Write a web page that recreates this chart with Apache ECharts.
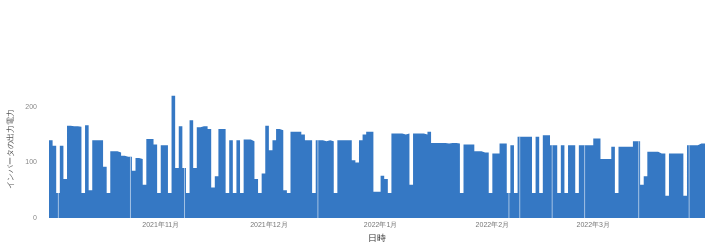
<!DOCTYPE html>
<html>
<head>
<meta charset="UTF-8">
<title>インバータの出力電力</title>
<script src="https://cdn.jsdelivr.net/npm/echarts@6/dist/echarts.min.js"></script>
<style>
  html, body { margin: 0; padding: 0; background: #fff; }
  #main { width: 713px; height: 242px; }
</style>
</head>
<body>
<div id="main"></div>
<script>
// 日ごとの出力電力（2021-10-01 から 2022-03-31 まで）
var startDate = '2021-10-01';
var dailyPower = [
  140, 130, 45, 130, 70, 166, 165, 165, 164, 45,
  167, 50, 140, 140, 140, 92, 45, 120, 120, 118,
  112, 110, 110, 85, 108, 106, 60, 142, 142, 132,
  45, 131, 131, 45, 220, 90, 165, 90, 45, 176,
  90, 163, 165, 165, 160, 55, 75, 160, 160, 45,
  140, 45, 140, 45, 141, 141, 138, 70, 45, 80,
  166, 122, 140, 160, 158, 50, 45, 155, 155, 155,
  150, 140, 140, 45, 140, 140, 138, 140, 138, 45,
  140, 140, 140, 140, 104, 100, 140, 150, 155, 155,
  47, 47, 76, 70, 45, 152, 152, 152, 150, 152,
  60, 152, 152, 152, 150, 155, 135, 135, 135, 135,
  134, 135, 135, 134, 45, 132, 132, 132, 120, 120,
  118, 118, 45, 116, 116, 134, 134, 45, 131, 45,
  146, 146, 146, 146, 45, 146, 45, 149, 149, 131,
  131, 45, 131, 45, 131, 131, 45, 131, 131, 131,
  131, 143, 143, 106, 106, 106, 128, 45, 128, 128,
  128, 128, 138, 138, 60, 75, 119, 119, 119, 116,
  116, 40, 116, 116, 116, 116, 40, 131, 131, 131,
  134, 134
];
// 一瞬 0 まで落ちた日
var dropDates = ['2021-10-03', '2021-10-23', '2021-11-07', '2021-12-14', '2022-02-05',
                 '2022-02-08', '2022-02-17', '2022-02-26', '2022-03-13', '2022-03-27'];
var monthTicks = ['2021-11-01', '2021-12-01', '2022-01-01', '2022-02-01', '2022-03-01'];
var yTicks = [0, 100, 200];

var DAY = 86400000;
function ts(s) {
  var p = s.split('-');
  return Date.UTC(+p[0], +p[1] - 1, +p[2]);
}

var t0 = ts(startDate);

// 各日の値を一日分の水平線として並べる（段差）
var points = [];
for (var i = 0; i < dailyPower.length; i++) {
  var t = t0 + i * DAY;
  points.push([t, dailyPower[i]]);
  points.push([t + DAY, dailyPower[i]]);
}
var tEnd = t0 + dailyPower.length * DAY;

// 落ち込みは細い白線で
var drops = dropDates.map(function (d) {
  var t = ts(d);
  return [t + 0.6 * DAY, dailyPower[Math.round((t - t0) / DAY)]];
});

var myChart = echarts.init(document.getElementById('main'));
myChart.setOption({
  animation: false,
  grid: { left: 49, right: 8, top: 79, bottom: 24, containLabel: false, outerBoundsMode: 'none' },
  xAxis: {
    type: 'value',
    min: t0,
    max: tEnd,
    name: '日時',
    nameLocation: 'middle',
    nameGap: 13,
    nameTextStyle: { fontSize: 9, color: '#333' },
    axisLine: { show: false },
    axisTick: { show: false },
    splitLine: { show: false },
    axisLabel: {
      customValues: monthTicks.map(ts),
      fontSize: 7,
      color: '#777',
      margin: 4,
      formatter: function (v) {
        var d = new Date(v);
        return d.getUTCFullYear() + '年' + (d.getUTCMonth() + 1) + '月';
      }
    }
  },
  yAxis: {
    type: 'value',
    min: 0,
    max: 250,
    name: 'インバータの出力電力',
    nameLocation: 'middle',
    nameGap: 34,
    nameTextStyle: { fontSize: 8, color: '#555' },
    axisLine: { show: false },
    axisTick: { show: false },
    splitLine: { show: false },
    axisLabel: {
      customValues: yTicks,
      fontSize: 7,
      color: '#888',
      margin: 12
    }
  },
  series: [{
    type: 'line',
    data: points,
    showSymbol: false,
    symbol: 'none',
    lineStyle: { width: 0 },
    areaStyle: { color: '#3578c4', opacity: 1 },
    itemStyle: { color: '#3578c4' }
  }, {
    type: 'bar',
    data: drops,
    barWidth: 1,
    itemStyle: { color: 'rgba(255,255,255,0.55)' },
    z: 3
  }]
});
</script>
</body>
</html>
